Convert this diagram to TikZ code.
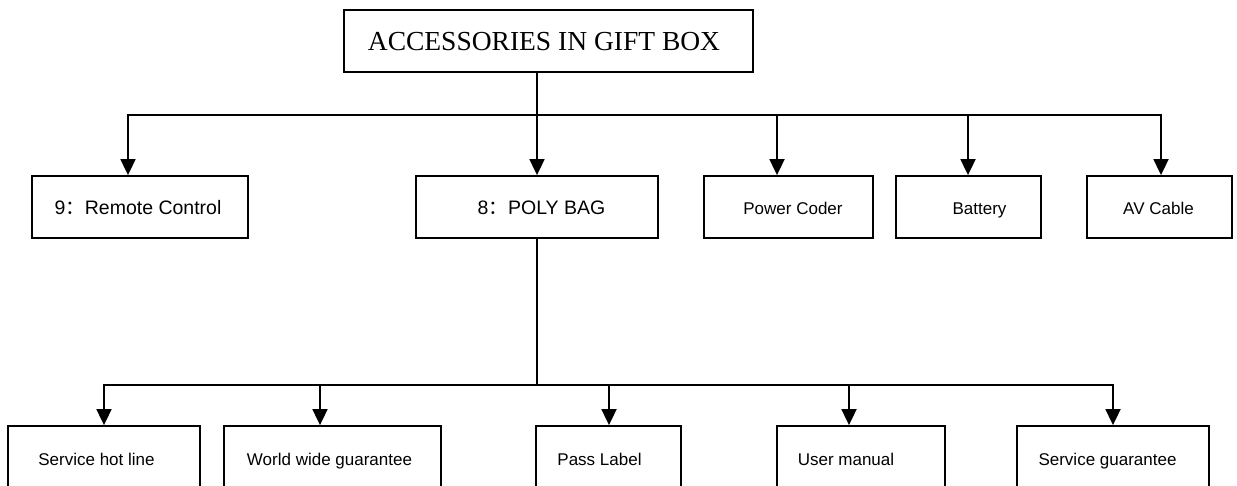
\documentclass[tikz,border=0pt]{standalone}
\usepackage{fontspec}
\setmainfont{Liberation Serif}
\setsansfont{Liberation Sans}
\newfontfamily\cjkfont{Noto Sans CJK SC}
\usetikzlibrary{arrows.meta}
\newcommand{\fwcolon}{{\cjkfont ：}}
\begin{document}
\begin{tikzpicture}[x=1pt,y=-1pt,
  box/.style={draw, line width=1.8pt, minimum height=62pt, inner sep=0pt},
  bbox/.style={draw, line width=1.8pt, minimum height=74pt, inner sep=0pt},
  lbl/.style={font=\sffamily\fontsize{17}{20}\selectfont, inner sep=0pt, anchor=base},
  nlbl/.style={font=\sffamily\fontsize{19.5}{22}\selectfont, inner sep=0pt, anchor=base},
  tlbl/.style={font=\rmfamily\fontsize{27.5}{30}\selectfont, inner sep=0pt, anchor=base},
  conn/.style={line width=1.8pt},
  arr/.style={conn, -{Triangle[width=15pt,length=16pt]}}]
\useasboundingbox (0,0) rectangle (1237,486);

% boxes
\node[box, minimum width=409pt] (top) at (548.5,41) {};
\node[box, minimum width=216pt] (rc) at (140,207) {};
\node[box, minimum width=242pt] (pb) at (537,207) {};
\node[box, minimum width=169pt] (pc) at (788.5,207) {};
\node[box, minimum width=145pt] (bat) at (968.5,207) {};
\node[box, minimum width=145pt] (av) at (1159.5,207) {};
\node[bbox, minimum width=192pt] (shl) at (104,463) {};
\node[bbox, minimum width=217pt] (wwg) at (332.5,463) {};
\node[bbox, minimum width=145pt] (pl) at (608.5,463) {};
\node[bbox, minimum width=168pt] (um) at (861,463) {};
\node[bbox, minimum width=192pt] (sg) at (1113,463) {};

% texts
\node[tlbl] (t-top) at (544,51) {ACCESSORIES IN GIFT BOX};
\node[nlbl] (t-rc) at (138,215) {9\fwcolon Remote Control};
\node[nlbl] (t-pb) at (541.5,215) {8\fwcolon POLY BAG};
\node[lbl] (t-pc) at (793,215) {Power Coder};
\node[lbl] (t-bat) at (979.5,215) {Battery};
\node[lbl] (t-av) at (1158.5,215) {AV Cable};
\node[lbl] (t-shl) at (96.5,465) {Service hot line};
\node[lbl] (t-wwg) at (329.5,465) {World wide guarantee};
\node[lbl] (t-pl) at (599.5,465) {Pass Label};
\node[lbl] (t-um) at (846,465) {User manual};
\node[lbl] (t-sg) at (1107.5,465) {Service guarantee};

% connectors top
\draw[conn] ([xshift=-11.5pt]top.south) -- ++(0,42) coordinate (bus1);
\draw[arr] (bus1) -| ([xshift=-12pt]rc.north);
\draw[arr] (bus1) -- (pb.north);
\draw[arr] (bus1) -| ([xshift=-11.5pt]pc.north);
\draw[arr] (bus1) -| ([xshift=-0.5pt]bat.north);
\draw[arr] (bus1) -| ([xshift=1.5pt]av.north);

% connectors bottom
\draw[conn] (pb.south) -- ++(0,146) coordinate (bus2);
\draw[arr] (bus2) -| (shl.north);
\draw[arr] (bus2) -| ([xshift=-12.5pt]wwg.north);
\draw[arr] (bus2) -| ([xshift=0.5pt]pl.north);
\draw[arr] (bus2) -| ([xshift=-12pt]um.north);
\draw[arr] (bus2) -| (sg.north);
\end{tikzpicture}
\end{document}
